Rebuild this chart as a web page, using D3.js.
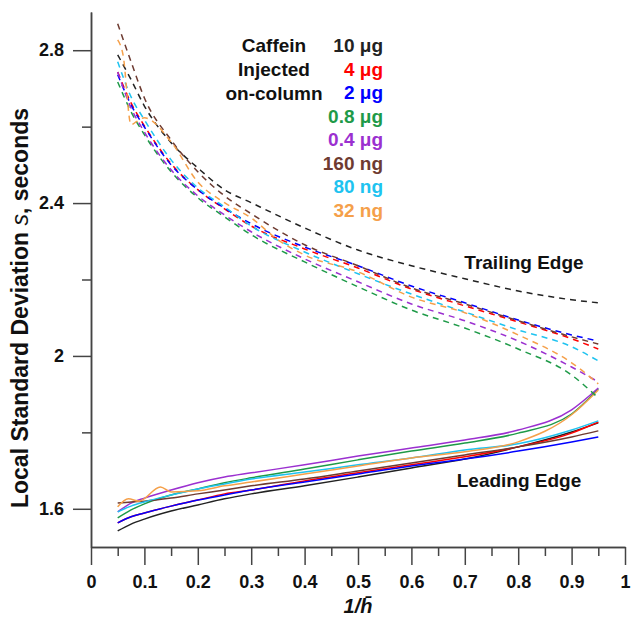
<!DOCTYPE html>
<html lang="en">
<head>
    <meta charset="UTF-8">
    <title>Local standard deviation vs 1/h</title>
    <script src="https://d3js.org/d3.v7.min.js"></script>
    <style>
        body { margin: 0; background: #fff; }
        svg { font-family: "Liberation Sans", Arial, sans-serif; }
        .axis path, .axis line { stroke: #444; stroke-width: 1.5px; }
        .axis text { font-size: 18px; font-weight: bold; fill: #111; }
        .trail { fill: none; stroke-width: 1.5px; stroke-dasharray: 6 5; }
        .lead { fill: none; stroke-width: 1.5px; }
    </style>
</head>
<body>
    <svg width="632" height="617"></svg>

    <script>
        // data
        const xGrid = [0.05, 0.075, 0.1, 0.15, 0.2, 0.25, 0.3, 0.4, 0.5, 0.6, 0.7, 0.8, 0.9, 0.95];

        const labels = ["10 μg", "4 μg", "2 μg", "0.8 μg", "0.4 μg", "160 ng", "80 ng", "32 ng"];
        const colors = ["#222222", "#ff0000", "#0000ff", "#1e9a48", "#9b30d0", "#6e3b31", "#1ec3f0", "#f5a04a"];

        // trailing edge (dashed)
        const trail10ug  = [2.788, 2.723, 2.654, 2.558, 2.492, 2.435, 2.401, 2.335, 2.277, 2.236, 2.202, 2.170, 2.147, 2.139];
        const trail4ug   = [2.743, 2.662, 2.602, 2.503, 2.435, 2.385, 2.340, 2.280, 2.230, 2.175, 2.131, 2.089, 2.045, 2.018];
        const trail2ug   = [2.736, 2.657, 2.599, 2.500, 2.435, 2.387, 2.346, 2.285, 2.236, 2.183, 2.139, 2.094, 2.055, 2.039];
        const trail08ug  = [2.717, 2.639, 2.579, 2.482, 2.414, 2.364, 2.317, 2.246, 2.181, 2.120, 2.073, 2.018, 1.950, 1.890];
        const trail04ug  = [2.743, 2.649, 2.586, 2.487, 2.419, 2.369, 2.325, 2.254, 2.194, 2.136, 2.092, 2.039, 1.971, 1.932];
        const trail160ng = [2.869, 2.770, 2.675, 2.565, 2.482, 2.419, 2.372, 2.291, 2.236, 2.178, 2.136, 2.092, 2.050, 2.031];
        const trail80ng  = [2.770, 2.678, 2.618, 2.513, 2.440, 2.390, 2.340, 2.272, 2.215, 2.162, 2.115, 2.068, 2.024, 1.987];
        const trail32ngX = [0.05, 0.06, 0.075, 0.085, 0.1, 0.15, 0.2, 0.25, 0.3, 0.35, 0.4, 0.5, 0.6, 0.7, 0.8, 0.9, 0.95];
        const trail32ng  = [2.827, 2.788, 2.605, 2.613, 2.623, 2.560, 2.455, 2.401, 2.361, 2.304, 2.264, 2.220, 2.154, 2.113, 2.055, 1.982, 1.927];

        // leading edge (solid)
        const lead10ug  = [1.542, 1.560, 1.573, 1.594, 1.610, 1.626, 1.639, 1.660, 1.683, 1.707, 1.730, 1.762, 1.801, 1.825];
        const lead4ug   = [1.563, 1.579, 1.589, 1.607, 1.623, 1.639, 1.649, 1.673, 1.694, 1.715, 1.736, 1.762, 1.798, 1.827];
        const lead2ug   = [1.563, 1.579, 1.589, 1.607, 1.623, 1.636, 1.649, 1.670, 1.691, 1.712, 1.730, 1.751, 1.775, 1.788];
        const lead08ug  = [1.576, 1.597, 1.613, 1.636, 1.652, 1.668, 1.681, 1.704, 1.728, 1.751, 1.772, 1.798, 1.848, 1.914];
        const lead04ug  = [1.592, 1.615, 1.628, 1.649, 1.668, 1.683, 1.694, 1.715, 1.738, 1.759, 1.780, 1.806, 1.859, 1.916];
        const lead160ng = [1.615, 1.618, 1.620, 1.628, 1.639, 1.649, 1.660, 1.678, 1.699, 1.720, 1.741, 1.762, 1.788, 1.804];
        const lead80ng  = [1.592, 1.607, 1.618, 1.636, 1.652, 1.665, 1.678, 1.696, 1.715, 1.733, 1.754, 1.770, 1.806, 1.830];
        const lead32ngX = [0.05, 0.07, 0.09, 0.13, 0.15, 0.2, 0.25, 0.3, 0.4, 0.5, 0.6, 0.7, 0.8, 0.9, 0.95];
        const lead32ng  = [1.605, 1.626, 1.620, 1.657, 1.644, 1.647, 1.660, 1.670, 1.691, 1.712, 1.733, 1.749, 1.775, 1.846, 1.911];

        const yMajor = [1.6, 2.0, 2.4, 2.8];
        const yMinor = [1.8, 2.2, 2.6];
        const xMajor = [0, 0.1, 0.2, 0.3, 0.4, 0.5, 0.6, 0.7, 0.8, 0.9, 1];
        const xMinor = [0.05, 0.15, 0.25, 0.35, 0.45, 0.55, 0.65, 0.75, 0.85, 0.95];

        const trails = [
            [xGrid, trail10ug], [xGrid, trail4ug], [xGrid, trail2ug], [xGrid, trail08ug],
            [xGrid, trail04ug], [xGrid, trail160ng], [xGrid, trail80ng], [trail32ngX, trail32ng]
        ];
        const leads = [
            [xGrid, lead10ug], [xGrid, lead4ug], [xGrid, lead2ug], [xGrid, lead08ug],
            [xGrid, lead04ug], [xGrid, lead160ng], [xGrid, lead80ng], [lead32ngX, lead32ng]
        ];

        const svg = d3.select("svg");
        const x = d3.scaleLinear().domain([0, 1]).range([91, 625]);
        const y = d3.scaleLinear().domain([1.5, 2.9]).range([547, 12]);

        const line = d3.line()
            .x(d => x(d[0]))
            .y(d => y(d[1]))
            .curve(d3.curveMonotoneX);

        const toPts = s => s[0].map((xv, i) => [xv, s[1][i]]);

        // draw leading first, trailing on top
        svg.selectAll(".lead")
            .data(leads)
            .enter()
            .append("path")
            .attr("class", "lead")
            .attr("stroke", (d, i) => colors[i])
            .attr("d", d => line(toPts(d)));

        svg.selectAll(".trail")
            .data(trails)
            .enter()
            .append("path")
            .attr("class", "trail")
            .attr("stroke", (d, i) => colors[i])
            .attr("d", d => line(toPts(d)));

        // axes
        svg.append("g")
            .attr("class", "axis")
            .attr("transform", "translate(0,547)")
            .call(d3.axisBottom(x).tickValues(xMajor).tickSize(18).tickSizeOuter(0).tickPadding(10)
                .tickFormat(d => d === 0 || d === 1 ? d : d3.format(".1f")(d)));
        svg.append("g")
            .attr("class", "axis")
            .attr("transform", "translate(0,547)")
            .call(d3.axisBottom(x).tickValues(xMinor).tickSize(9).tickSizeOuter(0).tickFormat(""));

        svg.append("g")
            .attr("class", "axis")
            .attr("transform", "translate(91,0)")
            .call(d3.axisLeft(y).tickValues(yMajor).tickSize(18).tickSizeOuter(0).tickPadding(9)
                .tickFormat(d => d === 2 ? "2" : d3.format(".1f")(d)));
        svg.append("g")
            .attr("class", "axis")
            .attr("transform", "translate(91,0)")
            .call(d3.axisLeft(y).tickValues(yMinor).tickSize(9).tickSizeOuter(0).tickFormat(""));

        // axis titles
        const yTitle = svg.append("text")
            .attr("transform", "translate(28,308) rotate(-90)")
            .attr("text-anchor", "middle")
            .attr("font-size", 23)
            .attr("font-weight", "bold")
            .attr("fill", "#111");
        yTitle.append("tspan").text("Local Standard Deviation ");
        yTitle.append("tspan").attr("font-style", "italic").attr("font-weight", "normal").text("s");
        yTitle.append("tspan").text(", seconds");

        svg.append("text")
            .attr("x", 358)
            .attr("y", 613)
            .attr("text-anchor", "middle")
            .attr("font-size", 20)
            .attr("font-weight", "bold")
            .attr("font-style", "italic")
            .attr("fill", "#111")
            .text("1/h\u0304");

        // legend
        const legendHead = ["Caffein", "Injected", "on-column"];
        svg.selectAll(".lhead")
            .data(legendHead)
            .enter()
            .append("text")
            .attr("class", "lhead")
            .attr("x", 274)
            .attr("y", (d, i) => 52 + i * 24)
            .attr("text-anchor", "middle")
            .attr("font-size", 19)
            .attr("font-weight", "bold")
            .attr("fill", "#111")
            .text(d => d);

        svg.selectAll(".litem")
            .data(labels)
            .enter()
            .append("text")
            .attr("class", "litem")
            .attr("x", 383)
            .attr("y", (d, i) => 52 + i * 23.5)
            .attr("text-anchor", "end")
            .attr("font-size", 19)
            .attr("font-weight", "bold")
            .attr("fill", (d, i) => colors[i])
            .text(d => d);

        // curve labels
        svg.append("text")
            .attr("x", 524).attr("y", 269)
            .attr("text-anchor", "middle")
            .attr("font-size", 19).attr("font-weight", "bold").attr("fill", "#111")
            .text("Trailing Edge");
        svg.append("text")
            .attr("x", 519).attr("y", 487)
            .attr("text-anchor", "middle")
            .attr("font-size", 19).attr("font-weight", "bold").attr("fill", "#111")
            .text("Leading Edge");
    </script>
</body>
</html>
